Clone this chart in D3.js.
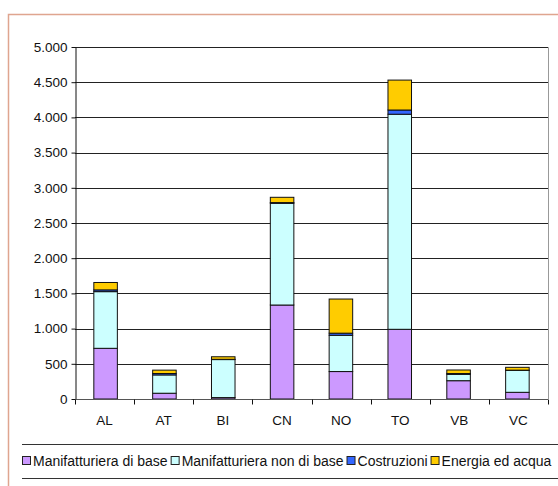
<!DOCTYPE html>
<html><head><meta charset="utf-8">
<script src="https://cdn.jsdelivr.net/npm/d3@7"></script>
<style>body{margin:0;background:#fff}svg{display:block}text{font-family:"Liberation Sans",Arial,sans-serif}</style>
</head><body><svg id="c" width="558" height="486"></svg>
<script>
const categories = ["AL","AT","BI","CN","NO","TO","VB","VC"];
const seriesNames = ["Manifatturiera di base","Manifatturiera non di base","Costruzioni","Energia ed acqua"];
const manifBase = [720, 82, 20, 1335, 390, 990, 260, 95];
const manifNonBase = [805, 260, 540, 1445, 515, 3055, 90, 310];
const costruzioni = [25, 20, 4, 10, 30, 60, 12, 5];
const energia = [105, 48, 36, 75, 485, 425, 50, 40];
const yTicks = [0,500,1000,1500,2000,2500,3000,3500,4000,4500,5000];
const colors = ["#cc99ff","#ccffff","#3366ff","#ffcc00"];

const svg = d3.select("#c");
const fmt = v => d3.format(",")(v).replace(/,/g,".");
// frame
svg.append("path").attr("d","M8.5,600 V14.5 H600").attr("fill","none").attr("stroke","#dfa58f").attr("stroke-width",1.5);

const L=75, R=548, T=47, B=399;
const x = d3.scaleBand().domain(categories).range([L,R]).paddingInner(0.6).paddingOuter(0.32);
const xb = d3.scaleBand().domain(categories).range([L,R]);
const y = d3.scaleLinear().domain([0,5000]).range([B,T]);

// plot border
svg.append("path").attr("d",`M${L},${T+0.5} H${R+0.5} V${B}`).attr("fill","none").attr("stroke","#999").attr("stroke-width",1);
// grid
svg.append("g").selectAll("line").data(yTicks.slice(1)).join("line")
  .attr("x1",L).attr("x2",R).attr("y1",d=>Math.round(y(d))+0.5).attr("y2",d=>Math.round(y(d))+0.5)
  .attr("stroke","#222").attr("stroke-width",1);

const rows = categories.map((c,i)=>({cat:c, s0:manifBase[i], s1:manifNonBase[i], s2:costruzioni[i], s3:energia[i]}));
const stack = d3.stack().keys(["s0","s1","s2","s3"])(rows);
svg.append("g").selectAll("g").data(stack).join("g").attr("fill",(d,i)=>colors[i])
  .selectAll("rect").data(d=>d).join("rect")
  .attr("x",d=>x(d.data.cat)).attr("width",x.bandwidth())
  .attr("y",d=>y(d[1])).attr("height",d=>y(d[0])-y(d[1]))
  .attr("stroke","#111").attr("stroke-width",1);

// y axis
const ya = svg.append("g").attr("transform",`translate(${L+0.5},0)`)
  .call(d3.axisLeft(y).tickValues(yTicks).tickFormat(fmt).tickSize(4).tickSizeOuter(0));
ya.select(".domain").attr("stroke","#111");
ya.selectAll(".tick line").attr("stroke","#111");
ya.selectAll("text").attr("font-size",13.5).attr("fill","#111").attr("x",-8).style("font-family","Liberation Sans, Arial, sans-serif");

// x axis
const xa = svg.append("g").attr("transform",`translate(0,${B+0.5})`);
xa.append("line").attr("x1",L).attr("x2",R).attr("stroke","#555");
xa.selectAll(".tk").data(categories.concat(["_end"])).join("line")
  .attr("x1",(d,i)=>Math.round(L+i*xb.step())+0.5).attr("x2",(d,i)=>Math.round(L+i*xb.step())+0.5)
  .attr("y1",0).attr("y2",5).attr("stroke","#111");
xa.selectAll("text").data(categories).join("text")
  .attr("x",d=>xb(d)+xb.bandwidth()/2).attr("y",25).attr("text-anchor","middle")
  .attr("font-size",13.5).attr("fill","#111").text(d=>d);

// legend
svg.append("line").attr("x1",22).attr("x2",558).attr("y1",444.5).attr("y2",444.5).attr("stroke","#333");
svg.append("line").attr("x1",22).attr("x2",558).attr("y1",478.5).attr("y2",478.5).attr("stroke","#333");
const lg = svg.append("g").attr("transform","translate(22,461)");
let cx = 0;
seriesNames.forEach((n,i)=>{
  lg.append("rect").attr("x",cx+0.5).attr("y",-4.5).attr("width",8).attr("height",8).attr("fill",colors[i]).attr("stroke","#222");
  const t = lg.append("text").attr("x",cx+11).attr("y",5).attr("font-size",14).attr("fill","#111").text(n);
  cx += 11 + t.node().getComputedTextLength() + 3;
});
</script></body></html>
